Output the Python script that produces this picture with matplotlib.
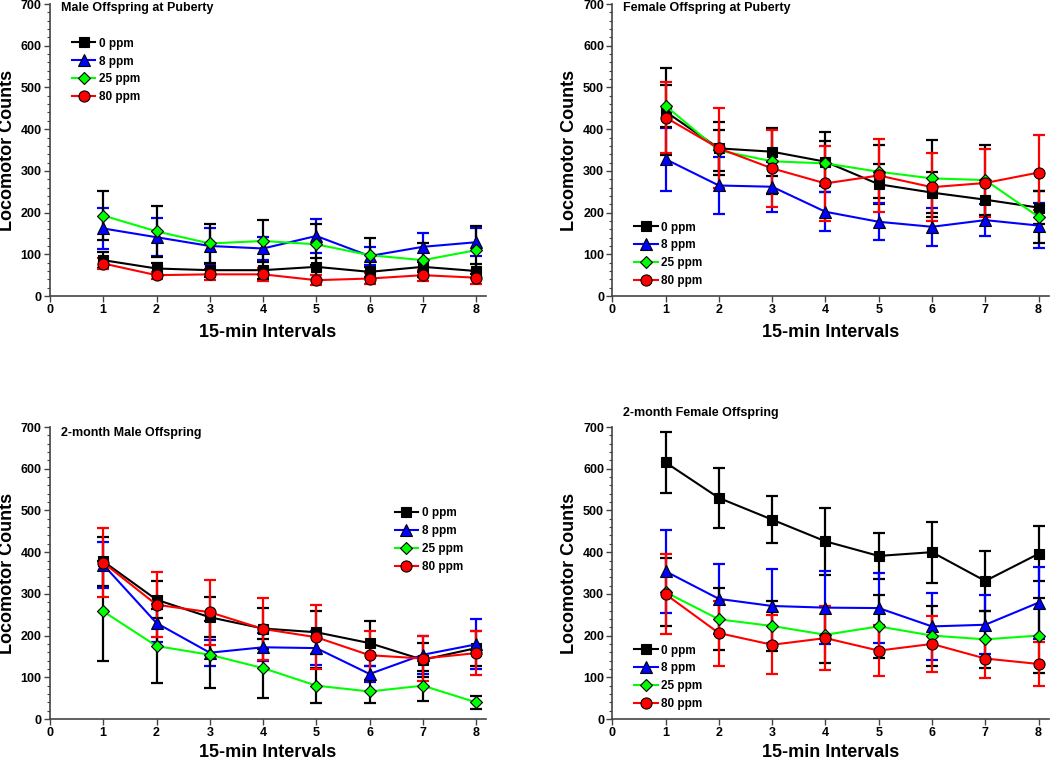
import matplotlib
matplotlib.use('Agg')
import matplotlib.pyplot as plt
from matplotlib.ticker import MultipleLocator

plt.rcParams['font.family'] = ['Liberation Sans', 'DejaVu Sans']
plt.rcParams['font.weight'] = 'bold'

# data
intervals = [1, 2, 3, 4, 5, 6, 7, 8]
doses = ['0 ppm', '8 ppm', '25 ppm', '80 ppm']

# male at puberty
mp_mean = {
    '0 ppm':  [86, 66, 62, 62, 70, 58, 70, 60],
    '8 ppm':  [162, 141, 120, 114, 144, 96, 118, 129],
    '25 ppm': [193, 155, 126, 132, 124, 98, 86, 110],
    '80 ppm': [78, 50, 52, 52, 38, 42, 50, 44],
}
mp_err = {
    '0 ppm':  [19, 14, 16, 22, 20, 12, 12, 16],
    '8 ppm':  [49, 46, 42, 28, 40, 22, 34, 33],
    '25 ppm': [59, 61, 47, 50, 49, 40, 40, 58],
    '80 ppm': [12, 8, 14, 16, 12, 13, 13, 15],
}

# female at puberty
fp_mean = {
    '0 ppm':  [442, 354, 346, 322, 268, 248, 231, 212],
    '8 ppm':  [328, 265, 262, 202, 178, 166, 182, 169],
    '25 ppm': [456, 349, 323, 318, 298, 282, 278, 190],
    '80 ppm': [428, 354, 306, 270, 289, 261, 271, 296],
}
fp_err = {
    '0 ppm':  [104, 64, 58, 72, 48, 50, 40, 40],
    '8 ppm':  [76, 69, 60, 47, 44, 45, 38, 53],
    '25 ppm': [50, 50, 78, 54, 64, 93, 84, 62],
    '80 ppm': [86, 96, 93, 90, 88, 82, 81, 89],
}

# 2-month male
mm_mean = {
    '0 ppm':  [378, 286, 244, 217, 208, 182, 142, 170],
    '8 ppm':  [370, 230, 159, 172, 170, 108, 154, 179],
    '25 ppm': [258, 175, 154, 122, 80, 66, 80, 40],
    '80 ppm': [375, 274, 256, 216, 196, 153, 145, 158],
}
mm_err = {
    '0 ppm':  [58, 44, 48, 50, 51, 54, 41, 42],
    '8 ppm':  [55, 45, 31, 34, 41, 19, 45, 60],
    '25 ppm': [120, 89, 80, 71, 42, 27, 36, 15],
    '80 ppm': [82, 78, 78, 75, 77, 59, 55, 53],
}

# 2-month female
mf_mean = {
    '0 ppm':  [615, 530, 478, 426, 391, 400, 331, 396],
    '8 ppm':  [354, 288, 271, 267, 266, 222, 226, 279],
    '25 ppm': [304, 239, 223, 202, 222, 200, 191, 200],
    '80 ppm': [299, 206, 178, 194, 164, 180, 145, 132],
}
mf_err = {
    '0 ppm':  [72, 71, 57, 80, 55, 73, 71, 66],
    '8 ppm':  [99, 84, 89, 88, 84, 81, 71, 86],
    '25 ppm': [82, 74, 61, 67, 75, 72, 69, 89],
    '80 ppm': [96, 78, 71, 76, 62, 68, 47, 53],
}

line_colors = {'0 ppm': 'black', '8 ppm': '#0000ff', '25 ppm': '#00ff00', '80 ppm': '#ff0000'}
err_colors = {'0 ppm': 'black', '8 ppm': '#0000ff', '25 ppm': 'black', '80 ppm': '#ff0000'}
markers = {'0 ppm': 's', '8 ppm': '^', '25 ppm': 'D', '80 ppm': 'o'}
msizes = {'0 ppm': 7, '8 ppm': 8, '25 ppm': 6, '80 ppm': 8}

fig = plt.figure(figsize=(10.5, 7.62), dpi=100)

W = 0.4155
H = 0.3832
panels = [
    # rect, title, means, errs, title_y, legend loc, legend anchor, xlabel y
    ([0.0476, 0.6115, W, H], 'Male Offspring at Puberty', mp_mean, mp_err, 0.986,
     'upper left', (0.05, 0.885), -0.097),
    ([0.5832, 0.6115, W, H], 'Female Offspring at Puberty', fp_mean, fp_err, 0.986,
     'lower left', (0.05, 0.03), -0.097),
    ([0.0476, 0.0564, W, H], '2-month Male Offspring', mm_mean, mm_err, 0.98,
     'upper left', (0.79, 0.725), -0.084),
    ([0.5832, 0.0564, W, H], '2-month Female Offspring', mf_mean, mf_err, 1.048,
     'lower left', (0.05, 0.03), -0.084),
]

for rect, title, means, errs, ty, lloc, lanchor, xly in panels:
    ax = fig.add_axes(rect)
    for d in doses:
        ax.errorbar(intervals, means[d], yerr=errs[d], fmt='none',
                    ecolor=err_colors[d], elinewidth=1.6, capsize=4, capthick=1.6, zorder=2)
    for d in doses:
        ax.plot(intervals, means[d], color=line_colors[d], lw=1.5, marker=markers[d],
                ms=msizes[d], mfc=line_colors[d], mec='black', mew=0.8, label=d, zorder=3)

    ax.set_xlim(0, 8.19)
    ax.set_ylim(0, 700)
    ax.set_xticks(range(0, 9))
    ax.yaxis.set_major_locator(MultipleLocator(100))
    ax.yaxis.set_minor_locator(MultipleLocator(20))
    for s in ['top', 'right']:
        ax.spines[s].set_visible(False)
    for s in ['left', 'bottom']:
        ax.spines[s].set_color('#444444')
        ax.spines[s].set_linewidth(1.2)
    ax.tick_params(axis='both', which='major', direction='out', length=4, width=1,
                   color='#444444', labelsize=9, pad=2)
    ax.tick_params(axis='y', which='minor', direction='out', length=2.5, width=0.8, color='#444444')
    for lab in ax.get_xticklabels() + ax.get_yticklabels():
        lab.set_fontweight('bold')

    ax.set_ylabel('Locomotor Counts', fontsize=13, fontweight='bold')
    ax.set_xlabel('15-min Intervals', fontsize=13, fontweight='bold')
    ax.yaxis.set_label_coords(-0.078, 0.5)
    ax.xaxis.set_label_coords(0.5, xly)

    ax.text(0.025, ty, title, transform=ax.transAxes, fontsize=9, fontweight='bold',
            ha='left', va='center')

    leg = ax.legend(loc=lloc, bbox_to_anchor=lanchor, frameon=False, fontsize=8.5,
                    handlelength=2.0, handletextpad=0.3, labelspacing=0.5, borderpad=0,
                    borderaxespad=0)
    for t in leg.get_texts():
        t.set_fontweight('bold')

fig.savefig('out.png', dpi=100)
